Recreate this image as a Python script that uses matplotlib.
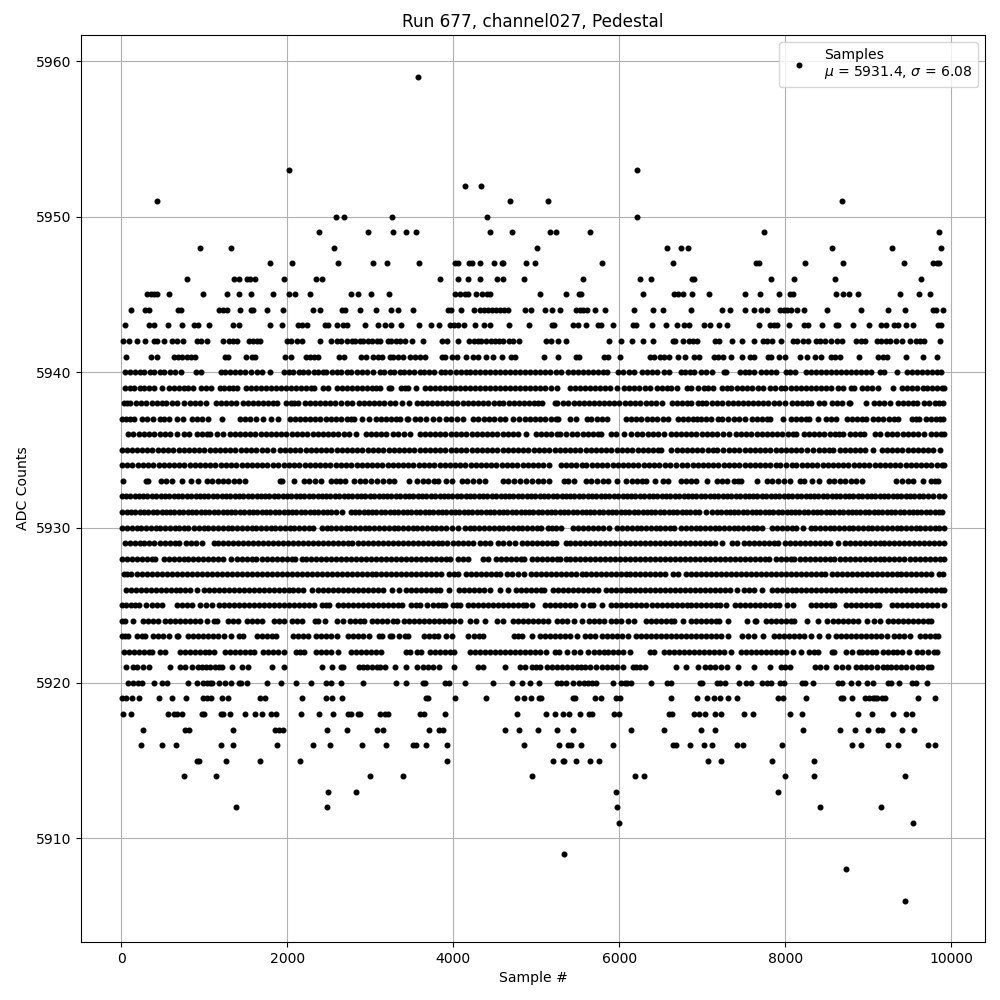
import matplotlib

matplotlib.use("Agg")
import matplotlib.pyplot as plt

# samples per ADC level (dense rows are thinned to what shows)
adc_5959 = [3578]
adc_5953 = [2024, 6217]
adc_5952 = [4144, 4337]
adc_5951 = [434, 4686, 5145, 8686]
adc_5950 = [2590, 2686, 3265, 4410, 6217]
adc_5949 = [2385, 2976, 3277, 3434, 3554, 4446, 4711, 5165, 5233, 5650, 7747, 9847]
adc_5948 = [952, 1325, 2566, 5012, 6578, 6747, 6831, 8566, 9289, 9879]
adc_5947 = [1795, 2060, 2614, 3036, 3205, 3590, 4024, 4060, 4193, 4229, 4317, 4494, 4582, 4602, 4880, 4988,
            5795, 6650, 7646, 7678, 8241, 8699, 9434, 9783, 9823, 9847]
adc_5946 = [795, 1353, 1421, 1514, 1550, 1614, 1964, 2349, 2414, 3843, 4060, 4180, 4325, 4530, 4602, 4855,
            5566, 6253, 6386, 6880, 6904, 7831, 8108, 8602, 9638]
adc_5945 = [309, 357, 393, 430, 574, 988, 1277, 1421, 1566, 1831, 2024, 2096, 2277, 2771, 2855, 3012, 3229,
            4024, 4084, 4144, 4181, 4277, 4349, 4410, 4446, 5048, 5361, 5514, 5538, 6289, 6663, 6711, 6771,
            6880, 7084, 7518, 7699, 7928, 8060, 8096, 8614, 8699, 8771, 8880, 9386, 9614, 9747]
adc_5944 = [120, 285, 333, 683, 719, 1181, 1229, 1277, 1434, 1566, 1590, 1759, 1952, 2313, 2398, 2662, 2698,
            2880, 3072, 3253, 3337, 3518, 3940, 3976, 4096, 4253, 4325, 4373, 4421, 4470, 4518, 4566, 4614,
            4662, 4867, 4940, 5108, 5193, 5289, 5482, 5526, 5566, 5614, 5711, 5831, 6181, 6410, 6530, 6867,
            7241, 7337, 7518, 7627, 7711, 7783, 7940, 7988, 8024, 8072, 8145, 8229, 8506, 8916, 9241, 9446,
            9783, 9819, 9904]
adc_5943 = [48, 333, 393, 566, 735, 880, 928, 1060, 1349, 1421, 1795, 1940, 2133, 2181, 2241, 2458, 2494, 2602,
            2675, 2723, 2940, 3096, 3181, 3253, 3373, 3590, 3735, 3831, 3964, 4012, 4060, 4132, 4265, 4373,
            4445, 4675, 4916, 5193, 5217, 5446, 5506, 5602, 5747, 5783, 5928, 6169, 6205, 6394, 6562, 6695,
            6779, 6839, 7020, 7092, 7201, 7297, 7683, 7815, 7863, 7900, 8048, 8229, 8277, 8446, 8614, 8639,
            8819, 9012, 9157, 9217, 9313, 9361, 9458, 9542, 9843, 9880]
adc_5942 = [24, 96, 193, 285, 393, 430, 518, 614, 675, 747, 916, 964, 1036, 1229, 1301, 1349, 1398, 1542, 1590,
            1638, 1675, 2000, 2040, 2120, 2181, 2398, 2530, 2602, 2651, 2723, 2783, 2819, 2880, 2916, 2976,
            3024, 3084, 3120, 3217, 3253, 3313, 3361, 3422, 3506, 3639, 3867, 3928, 4060, 4193, 4253, 4301,
            4337, 4398, 4458, 4506, 4554, 4602, 4675, 4723, 4795, 5120, 5181, 5265, 5361, 5880, 6024, 6153,
            6289, 6410, 6651, 6675, 6771, 6843, 6892, 6940, 7157, 7205, 7361, 7482, 7627, 7735, 7783, 7843,
            7952, 8096, 8145, 8217, 8277, 8373, 8422, 8482, 8554, 8627, 8687, 8855, 8916, 8964, 9108, 9157,
            9217, 9265, 9337, 9410, 9506, 9578, 9627, 9675, 9867]
adc_5941 = [60, 361, 434, 639, 687, 735, 795, 843, 892, 1253, 1289, 1506, 1578, 1614, 1976, 2048, 2229, 2277,
            2325, 2373, 2626, 2687, 2892, 2952, 3032, 3092, 3141, 3241, 3277, 3337, 3398, 3482, 3542, 3602,
            3663, 3867, 3904, 3988, 4048, 4157, 4241, 4301, 4398, 4482, 4584, 4699, 4747, 5096, 5265, 5482,
            5518, 5819, 5867, 6012, 6373, 6422, 6494, 6542, 6602, 6711, 6795, 6904, 6964, 7144, 7193, 7253,
            7349, 7478, 7574, 7622, 7791, 7827, 7928, 8000, 8181, 8265, 8361, 8434, 8554, 8602, 8663, 8892,
            9120, 9181, 9229, 9458, 9663, 9831]
adc_5940 = [50, 110, 165, 225, 280, 345, 400, 465, 520, 590, 650, 725, 895, 965, 1197, 1255, 1310, 1375, 1430,
            1495, 1560, 1635, 1700, 1790, 1960, 2020, 2075, 2140, 2195, 2255, 2320, 2375, 2425, 2466, 2534,
            2595, 2650, 2715, 2770, 2835, 2900, 2960, 3036, 3112, 3170, 3235, 3290, 3355, 3410, 3470, 3530,
            3595, 3650, 3710, 3770, 3847, 3905, 3964, 4036, 4090, 4150, 4200, 4265, 4320, 4385, 4440, 4505,
            4560, 4625, 4680, 4745, 4800, 4865, 4920, 4985, 5040, 5105, 5170, 5235, 5297, 5385, 5440, 5505,
            5565, 5625, 5680, 5745, 5800, 5852, 5988, 6050, 6115, 6172, 6277, 6335, 6400, 6454, 6538, 6602,
            6739, 6795, 6850, 6896, 6980, 7044, 7112, 7261, 7285, 7450, 7510, 7565, 7627, 7707, 7765, 7830,
            7888, 8004, 8060, 8121, 8253, 8310, 8375, 8430, 8495, 8550, 8615, 8670, 8735, 8790, 8855, 8910,
            8975, 9032, 9136, 9185, 9341, 9470, 9530, 9590, 9650, 9705, 9770, 9825, 9876]
adc_5939 = [50, 100, 150, 220, 280, 335, 390, 486, 580, 640, 700, 760, 810, 860, 955, 1020, 1080, 1185, 1240,
            1300, 1350, 1400, 1500, 1560, 1620, 1685, 1740, 1805, 1860, 1925, 1985, 2040, 2100, 2160, 2225,
            2280, 2325, 2430, 2495, 2600, 2660, 2725, 2780, 2840, 2905, 2960, 3020, 3075, 3120, 3230, 3255,
            3365, 3415, 3460, 3550, 3665, 3725, 3780, 3845, 3900, 3965, 4020, 4080, 4145, 4200, 4260, 4325,
            4380, 4445, 4500, 4560, 4625, 4680, 4740, 4805, 4860, 4925, 4980, 5040, 5105, 5175, 5249, 5405,
            5465, 5525, 5590, 5645, 5710, 5765, 5830, 5890, 5970, 6056, 6115, 6180, 6240, 6305, 6365, 6460,
            6520, 6575, 6622, 6691, 6815, 6864, 6952, 7015, 7070, 7125, 7233, 7295, 7350, 7415, 7475, 7535,
            7600, 7667, 7735, 7820, 7880, 7945, 8000, 8065, 8125, 8185, 8245, 8305, 8365, 8430, 8490, 8550,
            8630, 8700, 8786, 8830, 8920, 8985, 9050, 9112, 9293, 9410, 9470, 9530, 9590, 9655, 9710, 9770,
            9830, 9885, 9916]
adc_5938 = [28, 70, 108, 180, 240, 300, 365, 425, 485, 545, 610, 670, 760, 825, 885, 950, 1016, 1145, 1205,
            1265, 1325, 1382, 1466, 1530, 1590, 1650, 1710, 1770, 1825, 1875, 1980, 2040, 2085, 2125, 2208,
            2270, 2330, 2395, 2455, 2515, 2580, 2646, 2722, 2775, 2863, 2925, 2985, 3045, 3110, 3170, 3235,
            3295, 3377, 3470, 3558, 3620, 3680, 3745, 3805, 3865, 3930, 3990, 4050, 4115, 4175, 4235, 4300,
            4360, 4420, 4485, 4545, 4605, 4670, 4730, 4790, 4855, 4915, 4975, 5016, 5065, 5225, 5250, 5325,
            5385, 5450, 5510, 5570, 5635, 5695, 5755, 5820, 5880, 5940, 6000, 6068, 6130, 6195, 6255, 6320,
            6380, 6445, 6510, 6638, 6700, 6760, 6820, 6870, 6952, 7000, 7044, 7120, 7180, 7240, 7305, 7365,
            7425, 7490, 7550, 7610, 7675, 7735, 7795, 7860, 7920, 7996, 8084, 8145, 8205, 8265, 8309, 8405,
            8470, 8558, 8620, 8680, 8767, 8783, 8972, 9068, 9130, 9195, 9265, 9353, 9415, 9480, 9540, 9586,
            9675, 9735, 9800, 9850, 9896]
adc_5937 = [5, 60, 110, 149, 245, 310, 378, 462, 520, 578, 670, 739, 847, 910, 975, 1040, 1209, 1433, 1495,
            1555, 1620, 1703, 1799, 1884, 2028, 2090, 2150, 2215, 2275, 2340, 2400, 2465, 2525, 2590, 2650,
            2715, 2770, 2807, 2895, 2988, 3064, 3125, 3190, 3250, 3315, 3362, 3446, 3450, 3538, 3605, 3671,
            3755, 3832, 3908, 3970, 4040, 4112, 4236, 4300, 4365, 4430, 4495, 4560, 4625, 4715, 4795, 4860,
            4920, 4985, 5050, 5110, 5175, 5235, 5266, 5401, 5482, 5606, 5665, 5730, 5790, 5850, 6076, 6140,
            6200, 6265, 6330, 6395, 6460, 6525, 6590, 6703, 6765, 6825, 6890, 6932, 6980, 7045, 7105, 7193,
            7233, 7313, 7380, 7445, 7514, 7594, 7655, 7720, 7780, 7819, 7968, 8064, 8125, 8190, 8250, 8289,
            8394, 8486, 8550, 8610, 8746, 8805, 8865, 8925, 8972, 9056, 9120, 9180, 9245, 9305, 9361, 9530,
            9575, 9614, 9690, 9750, 9810, 9860, 9896]
adc_5936 = [84, 145, 210, 270, 335, 400, 465, 530, 590, 670, 751, 820, 908, 970, 1030, 1072, 1156, 1221, 1305,
            1365, 1430, 1490, 1555, 1615, 1680, 1740, 1805, 1865, 1930, 1990, 2055, 2115, 2180, 2240, 2305,
            2365, 2430, 2490, 2555, 2615, 2680, 2747, 2823, 2944, 3005, 3070, 3130, 3189, 3277, 3340, 3405,
            3482, 3594, 3655, 3720, 3780, 3845, 3905, 3970, 4030, 4095, 4155, 4220, 4280, 4345, 4405, 4470,
            4530, 4595, 4655, 4720, 4780, 4875, 4996, 5055, 5115, 5180, 5249, 5285, 5353, 5430, 5495, 5560,
            5620, 5685, 5745, 5779, 5896, 5960, 6060, 6145, 6210, 6275, 6340, 6405, 6470, 6534, 6618, 6680,
            6745, 6805, 6870, 6930, 6995, 7055, 7120, 7180, 7245, 7325, 7401, 7465, 7530, 7590, 7655, 7715,
            7780, 7840, 7905, 7965, 8030, 8090, 8133, 8221, 8285, 8345, 8410, 8470, 8535, 8595, 8650, 8690,
            8775, 8840, 8900, 8952, 9080, 9145, 9225, 9290, 9350, 9415, 9475, 9540, 9600, 9675, 9750, 9815,
            9870, 9916]
adc_5935 = [5, 65, 125, 190, 250, 315, 375, 440, 500, 565, 625, 690, 750, 815, 875, 940, 1000, 1065, 1125,
            1190, 1250, 1315, 1375, 1440, 1500, 1565, 1625, 1690, 1755, 1823, 1907, 1970, 2030, 2095, 2155,
            2220, 2280, 2345, 2405, 2470, 2530, 2595, 2655, 2720, 2780, 2845, 2905, 2970, 3030, 3095, 3155,
            3220, 3280, 3345, 3405, 3470, 3530, 3595, 3655, 3720, 3780, 3845, 3905, 3970, 4030, 4095, 4155,
            4220, 4280, 4345, 4405, 4470, 4530, 4595, 4655, 4720, 4780, 4845, 4905, 4970, 5030, 5095, 5155,
            5220, 5280, 5345, 5405, 5470, 5530, 5595, 5655, 5720, 5780, 5845, 5905, 5970, 6030, 6095, 6155,
            6220, 6280, 6345, 6405, 6470, 6502, 6626, 6690, 6750, 6815, 6875, 6940, 7000, 7065, 7125, 7177,
            7245, 7321, 7385, 7445, 7510, 7570, 7635, 7695, 7760, 7820, 7885, 7945, 8010, 8070, 8135, 8195,
            8260, 8330, 8405, 8470, 8530, 8570, 8654, 8715, 8780, 8840, 8905, 8965, 9052, 9160, 9225, 9285,
            9350, 9410, 9475, 9535, 9600, 9660, 9725, 9785, 9868]
adc_5934 = [12, 75, 135, 200, 260, 325, 385, 450, 510, 575, 635, 700, 760, 825, 885, 950, 1010, 1075, 1135,
            1200, 1260, 1325, 1385, 1450, 1510, 1575, 1635, 1700, 1760, 1825, 1884, 1960, 2020, 2085, 2145,
            2210, 2270, 2335, 2395, 2460, 2520, 2585, 2645, 2710, 2770, 2835, 2895, 2960, 3020, 3085, 3145,
            3210, 3270, 3335, 3395, 3460, 3520, 3585, 3645, 3710, 3770, 3835, 3895, 3960, 4020, 4085, 4145,
            4210, 4270, 4335, 4395, 4460, 4520, 4585, 4645, 4710, 4770, 4835, 4895, 4960, 5020, 5085, 5149,
            5293, 5355, 5420, 5480, 5545, 5605, 5670, 5730, 5795, 5855, 5920, 5980, 6045, 6105, 6170, 6230,
            6295, 6355, 6420, 6480, 6545, 6605, 6683, 6759, 6820, 6885, 6945, 7010, 7070, 7135, 7195, 7260,
            7320, 7385, 7445, 7510, 7570, 7635, 7695, 7760, 7820, 7885, 7940, 8012, 8075, 8135, 8200, 8260,
            8325, 8385, 8450, 8510, 8575, 8635, 8700, 8760, 8825, 8885, 8950, 9010, 9075, 9135, 9200, 9260,
            9325, 9385, 9450, 9510, 9575, 9635, 9700, 9760, 9825, 9885, 9916]
adc_5933 = [24, 293, 325, 474, 540, 606, 735, 835, 920, 1028, 1095, 1160, 1225, 1290, 1355, 1420, 1494, 1908,
            1932, 2084, 2197, 2265, 2335, 2406, 2522, 2585, 2640, 2695, 2807, 2875, 2940, 3010, 3080, 3150,
            3220, 3289, 3470, 3566, 3630, 3700, 3765, 3811, 3916, 3980, 4100, 4170, 4240, 4315, 4386, 4598,
            4665, 4735, 4805, 4875, 4945, 5016, 5080, 5149, 5338, 5377, 5458, 5594, 5665, 5735, 5805, 5868,
            5968, 6084, 6150, 6215, 6275, 6325, 6434, 6526, 6582, 6739, 6800, 6865, 6924, 7052, 7172, 7235,
            7297, 7381, 7425, 7466, 7663, 7775, 7845, 7915, 7990, 8060, 8172, 8221, 8317, 8410, 8526, 8590,
            8655, 8720, 8790, 8855, 8920, 9337, 9402, 9474, 9542, 9654, 9750, 9800, 9843]
adc_5932 = [5, 55, 105, 160, 210, 265, 315, 370, 420, 475, 525, 580, 630, 685, 735, 790, 840, 895, 945, 1000,
            1050, 1105, 1155, 1210, 1260, 1315, 1365, 1420, 1470, 1525, 1575, 1630, 1680, 1735, 1785, 1840,
            1890, 1945, 1995, 2050, 2100, 2155, 2205, 2260, 2310, 2365, 2415, 2470, 2520, 2575, 2625, 2680,
            2730, 2785, 2835, 2890, 2940, 2995, 3045, 3100, 3150, 3205, 3255, 3310, 3360, 3415, 3465, 3520,
            3570, 3625, 3675, 3730, 3780, 3835, 3885, 3940, 3990, 4045, 4095, 4150, 4200, 4255, 4305, 4360,
            4410, 4465, 4515, 4570, 4620, 4675, 4725, 4780, 4830, 4885, 4935, 4990, 5040, 5095, 5145, 5200,
            5250, 5305, 5355, 5410, 5460, 5515, 5565, 5620, 5670, 5725, 5775, 5830, 5880, 5935, 5985, 6040,
            6090, 6145, 6195, 6250, 6300, 6355, 6405, 6460, 6510, 6565, 6615, 6670, 6720, 6775, 6825, 6880,
            6930, 6985, 7035, 7090, 7140, 7195, 7245, 7300, 7350, 7405, 7455, 7510, 7560, 7615, 7665, 7720,
            7770, 7825, 7875, 7930, 7980, 8035, 8085, 8140, 8190, 8245, 8295, 8350, 8400, 8455, 8505, 8560,
            8610, 8665, 8715, 8770, 8820, 8875, 8925, 8980, 9030, 9085, 9135, 9190, 9240, 9295, 9345, 9400,
            9450, 9505, 9555, 9610, 9660, 9720, 9780, 9850, 9916]
adc_5931 = [12, 65, 115, 170, 220, 275, 325, 380, 430, 485, 535, 590, 640, 695, 745, 800, 850, 905, 955, 1010,
            1060, 1115, 1165, 1220, 1270, 1325, 1375, 1430, 1480, 1535, 1585, 1640, 1690, 1745, 1795, 1850,
            1900, 1955, 2005, 2060, 2110, 2165, 2215, 2270, 2320, 2375, 2425, 2480, 2530, 2585, 2662, 2762,
            2815, 2865, 2920, 2970, 3025, 3075, 3130, 3180, 3235, 3285, 3340, 3390, 3445, 3495, 3550, 3600,
            3655, 3705, 3760, 3810, 3865, 3915, 3970, 4020, 4075, 4125, 4180, 4230, 4285, 4335, 4390, 4440,
            4495, 4545, 4600, 4650, 4705, 4755, 4810, 4860, 4915, 4965, 5020, 5070, 5125, 5175, 5230, 5280,
            5335, 5385, 5440, 5490, 5545, 5595, 5650, 5700, 5755, 5805, 5860, 5910, 5965, 6015, 6070, 6120,
            6175, 6225, 6280, 6330, 6385, 6435, 6490, 6540, 6595, 6645, 6700, 6750, 6805, 6855, 6910, 6960,
            7040, 7120, 7175, 7225, 7280, 7330, 7385, 7435, 7490, 7540, 7595, 7645, 7700, 7750, 7805, 7855,
            7910, 7960, 8015, 8065, 8120, 8170, 8225, 8275, 8330, 8380, 8435, 8485, 8540, 8590, 8645, 8695,
            8750, 8800, 8855, 8905, 8960, 9010, 9065, 9115, 9170, 9220, 9275, 9325, 9380, 9430, 9485, 9535,
            9590, 9640, 9695, 9745, 9800, 9850, 9888]
adc_5930 = [12, 70, 125, 185, 240, 300, 355, 415, 470, 530, 585, 645, 700, 760, 799, 880, 935, 995, 1050, 1110,
            1165, 1225, 1280, 1340, 1395, 1455, 1510, 1570, 1625, 1685, 1740, 1800, 1855, 1915, 1970, 2030,
            2085, 2145, 2200, 2260, 2309, 2417, 2475, 2530, 2590, 2645, 2705, 2760, 2820, 2875, 2935, 2990,
            3050, 3105, 3165, 3220, 3280, 3335, 3395, 3450, 3510, 3565, 3625, 3680, 3740, 3795, 3855, 3907,
            3980, 4060, 4140, 4200, 4255, 4315, 4370, 4430, 4485, 4545, 4600, 4660, 4715, 4775, 4830, 4890,
            4945, 5005, 5060, 5138, 5190, 5240, 5297, 5440, 5500, 5560, 5620, 5680, 5740, 5800, 5880, 5975,
            6035, 6095, 6150, 6210, 6265, 6325, 6380, 6440, 6495, 6555, 6610, 6662, 6747, 6805, 6860, 6920,
            6975, 7035, 7090, 7150, 7205, 7265, 7320, 7380, 7435, 7495, 7550, 7610, 7665, 7719, 7843, 7900,
            7960, 8015, 8075, 8130, 8209, 8305, 8360, 8420, 8475, 8535, 8590, 8650, 8705, 8765, 8820, 8880,
            8935, 8995, 9050, 9110, 9165, 9225, 9280, 9340, 9395, 9455, 9510, 9570, 9625, 9685, 9740, 9800,
            9855, 9916]
adc_5929 = [40, 100, 160, 220, 280, 340, 390, 470, 530, 590, 650, 700, 783, 845, 905, 968, 1112, 1170, 1230,
            1290, 1350, 1410, 1470, 1530, 1590, 1650, 1710, 1770, 1830, 1890, 1950, 2010, 2070, 2130, 2190,
            2250, 2310, 2370, 2430, 2490, 2550, 2610, 2670, 2730, 2775, 2855, 2915, 2975, 3035, 3095, 3155,
            3215, 3275, 3335, 3395, 3455, 3515, 3575, 3635, 3695, 3755, 3815, 3860, 3928, 4000, 4060, 4120,
            4180, 4233, 4317, 4380, 4445, 4535, 4600, 4670, 4743, 4831, 4890, 4950, 5010, 5070, 5130, 5190,
            5237, 5353, 5410, 5470, 5530, 5590, 5650, 5710, 5770, 5830, 5890, 5950, 6010, 6070, 6130, 6190,
            6250, 6310, 6370, 6430, 6490, 6550, 6610, 6670, 6730, 6790, 6850, 6910, 6970, 7030, 7090, 7150,
            7233, 7357, 7418, 7506, 7565, 7625, 7685, 7745, 7805, 7865, 7916, 8000, 8060, 8120, 8180, 8240,
            8300, 8360, 8420, 8480, 8540, 8630, 8715, 8775, 8835, 8895, 8955, 9015, 9075, 9135, 9195, 9255,
            9315, 9375, 9435, 9495, 9555, 9615, 9675, 9735, 9795, 9855, 9916]
adc_5928 = [5, 65, 125, 185, 245, 305, 365, 406, 510, 570, 630, 690, 750, 810, 870, 930, 990, 1050, 1110, 1170,
            1230, 1321, 1390, 1450, 1510, 1570, 1623, 1699, 1760, 1820, 1880, 1940, 2000, 2060, 2092, 2172,
            2230, 2290, 2350, 2410, 2470, 2530, 2590, 2650, 2710, 2770, 2830, 2890, 2950, 3010, 3070, 3130,
            3190, 3250, 3310, 3370, 3430, 3490, 3550, 3610, 3670, 3730, 3790, 3850, 3910, 3964, 4060, 4120,
            4173, 4361, 4421, 4510, 4570, 4630, 4690, 4750, 4810, 4855, 4950, 5010, 5070, 5130, 5190, 5250,
            5281, 5353, 5410, 5470, 5530, 5590, 5650, 5710, 5770, 5830, 5890, 5950, 6010, 6070, 6130, 6190,
            6250, 6310, 6370, 6430, 6490, 6550, 6610, 6670, 6730, 6790, 6850, 6910, 6970, 7030, 7090, 7150,
            7210, 7270, 7330, 7390, 7450, 7510, 7570, 7630, 7690, 7750, 7807, 7883, 7945, 8005, 8065, 8100,
            8173, 8235, 8295, 8355, 8415, 8475, 8535, 8582, 8654, 8715, 8775, 8835, 8895, 8955, 9015, 9075,
            9135, 9195, 9255, 9315, 9375, 9426, 9498, 9560, 9620, 9680, 9740, 9800, 9860, 9916]
adc_5927 = [28, 75, 117, 193, 255, 315, 375, 435, 495, 555, 615, 675, 735, 795, 855, 915, 975, 1035, 1095, 1155,
            1215, 1275, 1335, 1395, 1455, 1515, 1575, 1635, 1695, 1755, 1815, 1875, 1935, 1995, 2055, 2115,
            2175, 2235, 2295, 2355, 2415, 2475, 2535, 2595, 2655, 2715, 2775, 2835, 2895, 2955, 3015, 3075,
            3135, 3195, 3255, 3315, 3375, 3435, 3495, 3555, 3615, 3675, 3735, 3795, 3852, 3948, 4005, 4060,
            4148, 4210, 4270, 4330, 4390, 4450, 4510, 4566, 4646, 4705, 4775, 4847, 4935, 4995, 5055, 5115,
            5175, 5235, 5295, 5355, 5415, 5475, 5545, 5594, 5655, 5715, 5775, 5835, 5895, 5955, 6015, 6075,
            6135, 6195, 6255, 6315, 6375, 6435, 6495, 6555, 6643, 6711, 6807, 6865, 6925, 6985, 7045, 7105,
            7165, 7225, 7285, 7345, 7405, 7465, 7525, 7585, 7645, 7705, 7765, 7825, 7885, 7945, 8005, 8065,
            8125, 8185, 8245, 8305, 8365, 8425, 8478, 8558, 8620, 8680, 8740, 8800, 8860, 8920, 8980, 9040,
            9100, 9160, 9220, 9280, 9340, 9400, 9460, 9520, 9580, 9640, 9700, 9755, 9850, 9896]
adc_5926 = [52, 115, 175, 235, 295, 355, 415, 475, 535, 595, 660, 712, 770, 830, 912, 996, 1055, 1115, 1175,
            1235, 1295, 1355, 1415, 1475, 1535, 1595, 1655, 1715, 1775, 1835, 1895, 1955, 2015, 2075, 2135,
            2195, 2293, 2373, 2435, 2495, 2555, 2615, 2675, 2735, 2795, 2855, 2915, 2975, 3035, 3095, 3155,
            3257, 3349, 3434, 3495, 3555, 3615, 3675, 3735, 3795, 3843, 3944, 4068, 4130, 4190, 4250, 4310,
            4370, 4445, 4566, 4655, 4751, 4815, 4875, 4935, 4995, 5055, 5090, 5201, 5265, 5325, 5385, 5445,
            5505, 5565, 5625, 5685, 5739, 5835, 5895, 5955, 6015, 6075, 6135, 6195, 6255, 6315, 6375, 6435,
            6495, 6555, 6615, 6675, 6735, 6795, 6855, 6915, 6975, 7035, 7095, 7155, 7215, 7275, 7335, 7418,
            7506, 7565, 7625, 7715, 7835, 7895, 7955, 8015, 8075, 8135, 8195, 8255, 8315, 8375, 8435, 8495,
            8555, 8615, 8675, 8735, 8795, 8855, 8915, 8975, 9035, 9095, 9155, 9215, 9275, 9335, 9395, 9455,
            9515, 9575, 9635, 9695, 9755, 9815, 9875, 9916]
adc_5925 = [5, 60, 115, 170, 217, 301, 365, 425, 486, 670, 730, 790, 847, 943, 1015, 1088, 1177, 1240, 1300,
            1360, 1420, 1480, 1540, 1600, 1660, 1720, 1780, 1840, 1900, 1960, 2020, 2080, 2140, 2200, 2260,
            2317, 2421, 2465, 2506, 2606, 2670, 2730, 2790, 2850, 2910, 2970, 3030, 3090, 3150, 3210, 3270,
            3330, 3377, 3490, 3550, 3602, 3687, 3750, 3810, 3865, 3904, 4000, 4040, 4084, 4172, 4235, 4295,
            4355, 4415, 4475, 4535, 4595, 4655, 4715, 4775, 4835, 4875, 4944, 5100, 5165, 5225, 5285, 5345,
            5405, 5465, 5558, 5650, 5687, 5795, 5896, 5960, 6020, 6080, 6140, 6200, 6260, 6321, 6390, 6450,
            6510, 6570, 6630, 6690, 6750, 6810, 6870, 6930, 6990, 7050, 7110, 7170, 7217, 7281, 7390, 7450,
            7510, 7570, 7630, 7690, 7750, 7810, 7870, 7930, 8016, 8096, 8305, 8365, 8425, 8485, 8545, 8590,
            8735, 8795, 8855, 8915, 8975, 9035, 9095, 9125, 9281, 9345, 9405, 9465, 9525, 9585, 9645, 9705,
            9765, 9825, 9908]
adc_5924 = [12, 40, 137, 257, 320, 380, 438, 526, 585, 645, 705, 765, 825, 885, 945, 1032, 1116, 1149, 1281,
            1345, 1410, 1510, 1578, 1638, 1691, 1835, 1895, 1956, 2060, 2120, 2173, 2329, 2365, 2458, 2602,
            2667, 2755, 2815, 2875, 2920, 3024, 3085, 3145, 3205, 3269, 3325, 3409, 3470, 3530, 3590, 3650,
            3710, 3770, 3830, 3890, 3950, 4010, 4076, 4196, 4273, 4385, 4530, 4594, 4723, 4785, 4845, 4905,
            4965, 5025, 5085, 5140, 5245, 5310, 5370, 5458, 5546, 5635, 5695, 5755, 5819, 5904, 5965, 6025,
            6100, 6181, 6317, 6380, 6440, 6500, 6560, 6620, 6663, 6771, 6859, 6928, 6990, 7050, 7110, 7165,
            7205, 7309, 7534, 7634, 7647, 7763, 7825, 7885, 7945, 8005, 8065, 8100, 8265, 8398, 8506, 8570,
            8630, 8690, 8750, 8810, 8871, 8988, 9068, 9140, 9233, 9295, 9355, 9415, 9475, 9535, 9595, 9655,
            9715, 9755]
adc_5923 = [5, 45, 84, 193, 245, 289, 381, 440, 500, 578, 666, 679, 799, 860, 920, 980, 1040, 1100, 1160, 1233,
            1317, 1418, 1462, 1634, 1695, 1755, 1815, 1859, 2072, 2130, 2190, 2245, 2341, 2405, 2465, 2525,
            2598, 2727, 2790, 2850, 2910, 2980, 3104, 3136, 3233, 3257, 3349, 3418, 3458, 3646, 3710, 3770,
            3811, 3908, 3980, 4181, 4245, 4305, 4353, 4735, 4780, 4823, 4944, 5040, 5105, 5165, 5225, 5285,
            5345, 5405, 5486, 5582, 5645, 5705, 5787, 5847, 5910, 5970, 6030, 6100, 6197, 6260, 6320, 6380,
            6440, 6500, 6560, 6620, 6680, 6740, 6800, 6860, 6920, 6980, 7040, 7100, 7160, 7220, 7305, 7474,
            7554, 7622, 7735, 7863, 7925, 7985, 8045, 8105, 8165, 8225, 8309, 8410, 8510, 8614, 8675, 8735,
            8795, 8855, 8915, 8975, 9035, 9095, 9155, 9225, 9309, 9370, 9430, 9506, 9622, 9685, 9745, 9805,
            9843]
adc_5922 = [28, 90, 150, 210, 270, 330, 365, 462, 526, 703, 765, 825, 885, 945, 1005, 1060, 1112, 1249, 1310,
            1370, 1430, 1490, 1550, 1602, 1707, 1770, 1830, 1890, 1956, 2100, 2150, 2205, 2341, 2405, 2465,
            2525, 2606, 2763, 2825, 2885, 2945, 3005, 3065, 3128, 3426, 3482, 3566, 3610, 3715, 3775, 3835,
            3895, 3955, 4012, 4196, 4260, 4320, 4380, 4440, 4500, 4560, 4620, 4680, 4740, 4800, 4860, 4920,
            4980, 5040, 5117, 5225, 5277, 5373, 5450, 5526, 5626, 5690, 5750, 5810, 5870, 5930, 5990, 6050,
            6132, 6369, 6414, 6538, 6600, 6660, 6720, 6780, 6840, 6900, 6960, 7020, 7080, 7140, 7200, 7260,
            7345, 7462, 7525, 7585, 7645, 7705, 7765, 7825, 7885, 7945, 8005, 8088, 8185, 8285, 8340, 8390,
            8566, 8582, 8727, 8799, 8887, 8920, 8988, 9040, 9092, 9176, 9235, 9295, 9350, 9402, 9486, 9590,
            9650, 9715, 9791, 9827]
adc_5921 = [57, 145, 185, 265, 333, 586, 707, 771, 855, 920, 972, 1020, 1072, 1133, 1181, 1217, 1337, 1449,
            1522, 1815, 1964, 2413, 2534, 2650, 2667, 2867, 2916, 2960, 3016, 3080, 3116, 3177, 3301, 3434,
            3566, 3639, 3695, 3759, 3823, 4012, 4301, 4361, 4622, 4803, 4863, 4952, 5000, 5040, 5125, 5185,
            5245, 5305, 5365, 5425, 5486, 5534, 5586, 5650, 5723, 5791, 5851, 5911, 5975, 6044, 6165, 6205,
            6245, 6309, 6683, 6807, 6948, 7028, 7088, 7148, 7225, 7301, 7434, 7626, 7819, 7944, 8000, 8060,
            8354, 8418, 8494, 8614, 8680, 8755, 8847, 8910, 8972, 9036, 9108, 9173, 9225, 9277, 9337, 9397,
            9458, 9526, 9598, 9651, 9723, 9755]
adc_5920 = [84, 145, 205, 245, 398, 494, 554, 807, 916, 988, 1028, 1068, 1092, 1183, 1253, 1325, 1422, 1446,
            1518, 1759, 1928, 2108, 2289, 2470, 2522, 2651, 2916, 3313, 3434, 3631, 3655, 3904, 3952, 4145,
            4482, 4711, 4831, 4924, 5036, 5253, 5301, 5361, 5446, 5518, 5574, 5626, 5675, 5723,
            5928, 6024, 6072, 6096, 6145, 6386, 6578, 6626, 6968, 6992, 7173, 7209, 7273, 7442, 7526, 7586,
            7719, 7779, 7827, 7936, 7980, 8197, 8233, 8329, 8630, 8678, 8787, 8871, 8980, 9060, 9241, 9277,
            9373, 9530, 9570, 9711]
adc_5919 = [12, 60, 132, 217, 458, 614, 783, 988, 1028, 1084, 1217, 1289, 1675, 1735, 2181, 2470, 2542, 2663,
            3673, 3698, 4024, 4398, 4771, 4855, 4940, 5036, 5060, 5446, 5470, 5711, 5783, 5964, 6012,
            6627, 6940, 7060, 7145, 7217, 7313, 7422, 7916, 7976, 8253, 8675, 8699, 8807, 8964, 9012, 9060,
            9084, 9108, 9169, 9205, 9602, 9807]
adc_5918 = [24, 120, 566, 638, 675, 735, 976, 1000, 1205, 1229, 1313, 1494, 1614, 1699, 1807, 1867, 2169, 2385,
            2554, 2735, 2771, 2855, 2880, 3120, 3181, 3217, 3602, 3651, 3904, 4771, 5121, 5229, 5325, 5398,
            5530, 5639, 5675, 5940, 6000, 6602, 6638, 6904, 6964, 7036, 7157, 7229, 7506, 7614, 8060, 8205,
            8880, 9048, 9301, 9458, 9530]
adc_5917 = [265, 771, 819, 1349, 1855, 1903, 1952, 2482, 2723, 3084, 3157, 3711, 3831, 3880, 4627, 4795, 5024,
            5253, 5446, 6145, 6542, 6988, 7157, 8217, 8663, 8843, 9000, 9120, 9161, 9402, 9546]
adc_5916 = [241, 494, 663, 1205, 1349, 1880, 2313, 2518, 2904, 3193, 3518, 3554, 3675, 3928, 4855, 5277, 5386,
            5422, 5542, 5928, 6651, 6687, 6855, 7024, 7120, 7422, 7494, 7964, 8807, 8916, 9241, 9361, 9723, 9807]
adc_5915 = [916, 940, 1265, 1675, 2157, 3920, 5205, 5325, 5337, 5482, 5651, 5759, 7072, 7229, 7843, 8349]
adc_5914 = [759, 1145, 3000, 3398, 4952, 6193, 6301, 8000, 8349, 9446]
adc_5913 = [2494, 2831, 5964, 7916]
adc_5912 = [1386, 2482, 5976, 8422, 9157]
adc_5911 = [6000, 9542]
adc_5909 = [5337]
adc_5908 = [8735]
adc_5906 = [9446]

ROWS = {
    5959: adc_5959, 5953: adc_5953, 5952: adc_5952, 5951: adc_5951, 5950: adc_5950, 5949: adc_5949,
    5948: adc_5948, 5947: adc_5947, 5946: adc_5946, 5945: adc_5945, 5944: adc_5944, 5943: adc_5943,
    5942: adc_5942, 5941: adc_5941, 5940: adc_5940, 5939: adc_5939, 5938: adc_5938, 5937: adc_5937,
    5936: adc_5936, 5935: adc_5935, 5934: adc_5934, 5933: adc_5933, 5932: adc_5932, 5931: adc_5931,
    5930: adc_5930, 5929: adc_5929, 5928: adc_5928, 5927: adc_5927, 5926: adc_5926, 5925: adc_5925,
    5924: adc_5924, 5923: adc_5923, 5922: adc_5922, 5921: adc_5921, 5920: adc_5920, 5919: adc_5919,
    5918: adc_5918, 5917: adc_5917, 5916: adc_5916, 5915: adc_5915, 5914: adc_5914, 5913: adc_5913,
    5912: adc_5912, 5911: adc_5911, 5909: adc_5909, 5908: adc_5908, 5906: adc_5906,
}

samples = []
counts = []
for level, xs in ROWS.items():
    samples.extend(xs)
    counts.extend([level] * len(xs))

plt.rcParams["font.size"] = 10.1

fig, ax = plt.subplots(figsize=(10, 10))
ax.plot(samples, counts, "k.", markersize=6.6, label="Samples\n$\\mu$ = 5931.4, $\\sigma$ = 6.08")
ax.set_xlim(-485, 10406)
ax.set_ylim(5903.33, 5961.69)
ax.set_title("Run 677, channel027, Pedestal")
ax.set_xlabel("Sample #")
ax.set_ylabel("ADC Counts")
ax.grid(True)
ax.legend(loc="upper right")
fig.subplots_adjust(left=0.081, right=0.985, top=0.965, bottom=0.058)
fig.savefig("out.png", dpi=100)
